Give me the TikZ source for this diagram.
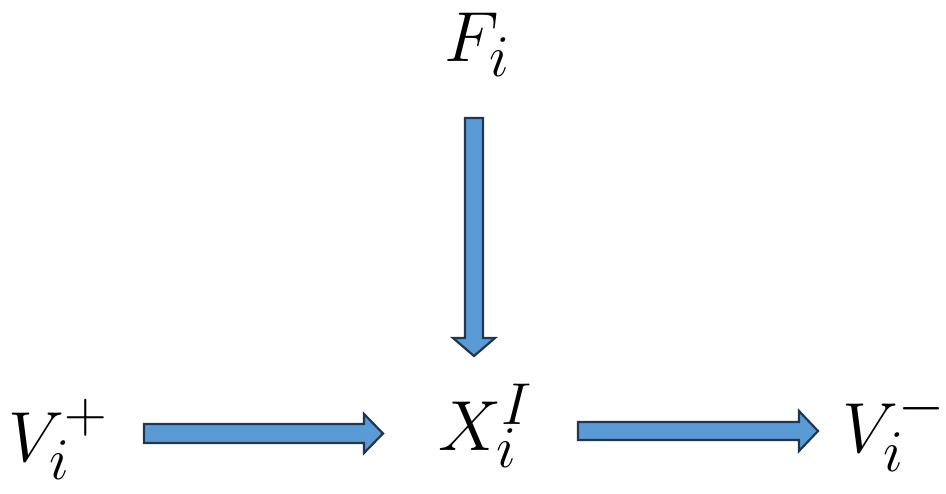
\documentclass[tikz,border=0pt]{standalone}
\usepackage{tikz}
\definecolor{arrowfill}{HTML}{5B9BD5}
\definecolor{arrowedge}{HTML}{22364F}
\begin{document}
\begin{tikzpicture}[x=1pt,y=-1pt,
  lbl/.style={inner sep=0pt, anchor=base west, font=\fontsize{24.88}{28}\selectfont, scale=2.85, transform shape},
  blockarrow/.style={fill=arrowfill, draw=arrowedge, line width=2.2pt, line join=miter}]
\useasboundingbox (0,0) rectangle (946,494);
\node[lbl] (F) at (444,62) {$F_{i}$};
\node[lbl] (X) at (438,450) {$X_{i}^{I}$};
\node[lbl] (Vp) at (8,461) {$V_{i}^{+}$};
\node[lbl] (Vm) at (842,453) {$V_{i}^{-\!\!}$};
% vertical arrow F -> X
\draw[blockarrow] (465,118) -- (483,118) -- (483,338) -- (495,338) -- (474,356) -- (453,338) -- (465,338) -- cycle;
% horizontal arrow Vp -> X
\draw[blockarrow] (144,424) -- (364,424) -- (364,414) -- (383,433.5) -- (364,453) -- (364,443) -- (144,443) -- cycle;
% horizontal arrow X -> Vm
\draw[blockarrow] (578,422) -- (799,422) -- (799,411) -- (818,431) -- (799,451) -- (799,440) -- (578,440) -- cycle;
\end{tikzpicture}
\end{document}
